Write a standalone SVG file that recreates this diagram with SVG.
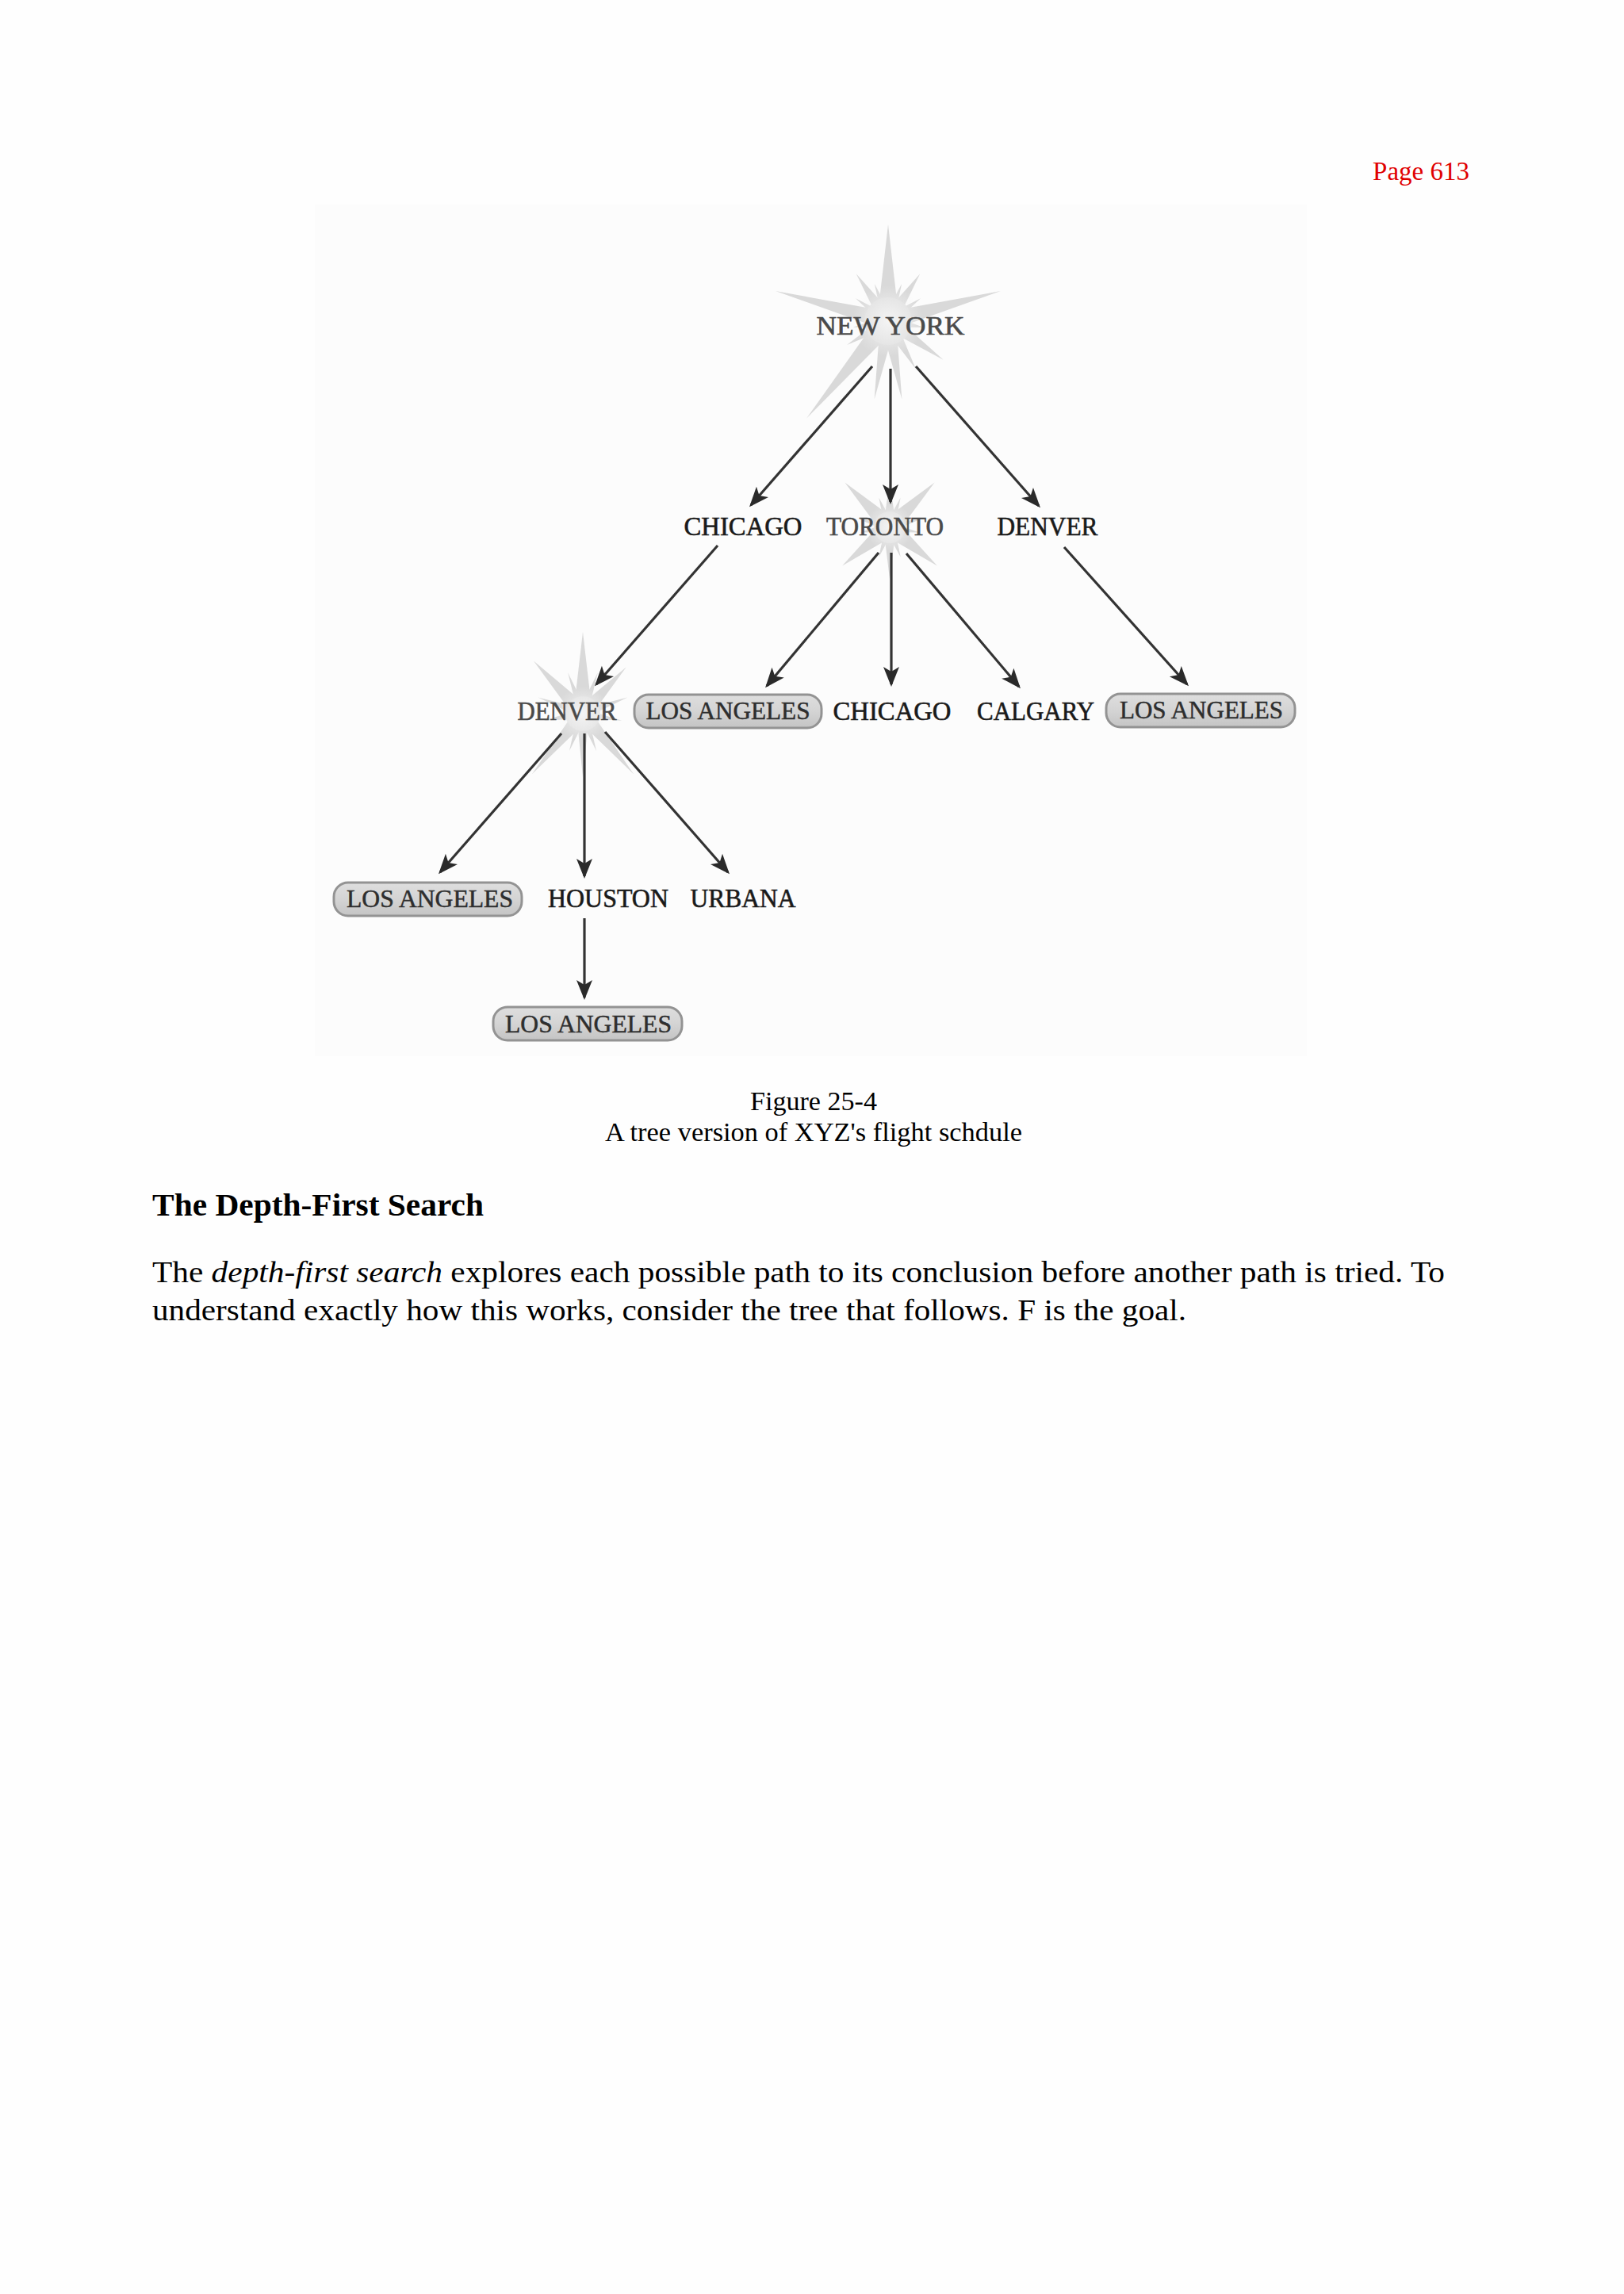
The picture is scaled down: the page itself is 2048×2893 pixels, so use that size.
<svg xmlns="http://www.w3.org/2000/svg" xmlns:xlink="http://www.w3.org/1999/xlink" width="2048" height="2893" viewBox="0 0 2048 2893">
<style>
.lbl{font-family:"Liberation Serif","Times New Roman",serif;font-size:33px;fill:#1a1a1a;stroke:#1a1a1a;stroke-width:0.6;text-anchor:middle}
.soft{fill:#4a4a4a;stroke:#4a4a4a}
.box{fill:url(#boxg);stroke:#939393;stroke-width:3}
.boxt{font-family:"Liberation Serif","Times New Roman",serif;font-size:31px;fill:#2e2e2e;stroke:#2e2e2e;stroke-width:0.5;text-anchor:middle}
.conn line{stroke:#333;stroke-width:3.2;marker-end:url(#ah)}
.body{font-family:"Liberation Serif","Times New Roman",serif;fill:#000}
.star{fill:#d9d9d9}
</style>
<defs>
<linearGradient id="boxg" x1="0" y1="0" x2="0" y2="1">
<stop offset="0" stop-color="#dedede"/>
<stop offset="0.5" stop-color="#d4d4d4"/>
<stop offset="1" stop-color="#c4c4c4"/>
</linearGradient>
<radialGradient id="glow">
<stop offset="0" stop-color="#f4f4f4"/>
<stop offset="1" stop-color="#f4f4f4" stop-opacity="0"/>
</radialGradient>
<polygon id="sp" points="-1,0 1,0 0,-1"/>
<marker id="ah" viewBox="-24 -12 28 24" refX="0" refY="0" markerWidth="28" markerHeight="24" markerUnits="userSpaceOnUse" orient="auto">
<path d="M3,0 L-22,-10 L-16,0 L-22,10 Z" fill="#2a2a2a"/>
</marker>
</defs>
<rect width="2048" height="2893" fill="#fefefe"/>
<rect x="397" y="258" width="1251" height="1074" fill="#fcfcfc"/>

<text x="1853" y="227" font-family="Liberation Serif, serif" font-size="33" fill="#e00000" text-anchor="end">Page 613</text>

<g id="stars">
<g class="star" transform="translate(1120,405)">
<use xlink:href="#sp" transform="rotate(0) scale(14,122)"/>
<use xlink:href="#sp" transform="rotate(20) scale(7,50)"/>
<use xlink:href="#sp" transform="rotate(34) scale(10,72)"/>
<use xlink:href="#sp" transform="rotate(55) scale(7,50)"/>
<use xlink:href="#sp" transform="rotate(75) scale(12,147)"/>
<use xlink:href="#sp" transform="rotate(100) scale(8,45)"/>
<use xlink:href="#sp" transform="rotate(125) scale(10,85)"/>
<use xlink:href="#sp" transform="rotate(150) scale(9,70)"/>
<use xlink:href="#sp" transform="rotate(170) scale(10,100)"/>
<use xlink:href="#sp" transform="rotate(190) scale(10,100)"/>
<use xlink:href="#sp" transform="rotate(220) scale(13,160)"/>
<use xlink:href="#sp" transform="rotate(240) scale(8,60)"/>
<use xlink:href="#sp" transform="rotate(260) scale(7,45)"/>
<use xlink:href="#sp" transform="rotate(285) scale(12,147)"/>
<use xlink:href="#sp" transform="rotate(305) scale(7,50)"/>
<use xlink:href="#sp" transform="rotate(326) scale(10,72)"/>
<use xlink:href="#sp" transform="rotate(340) scale(7,50)"/>
<circle r="30" fill="#dedede"/>
<circle r="45" fill="url(#glow)"/>
</g>
<g class="star" transform="translate(1122,665)">
<use xlink:href="#sp" transform="rotate(0) scale(8,60)"/>
<use xlink:href="#sp" transform="rotate(45) scale(12,80)"/>
<use xlink:href="#sp" transform="rotate(-45) scale(12,80)"/>
<use xlink:href="#sp" transform="rotate(129) scale(12,77)"/>
<use xlink:href="#sp" transform="rotate(-129) scale(12,77)"/>
<use xlink:href="#sp" transform="rotate(180) scale(8,65)"/>
<use xlink:href="#sp" transform="rotate(20) scale(6,40)"/>
<use xlink:href="#sp" transform="rotate(-20) scale(6,40)"/>
<use xlink:href="#sp" transform="rotate(75) scale(6,40)"/>
<use xlink:href="#sp" transform="rotate(-75) scale(6,40)"/>
<use xlink:href="#sp" transform="rotate(100) scale(6,38)"/>
<use xlink:href="#sp" transform="rotate(-100) scale(6,38)"/>
<use xlink:href="#sp" transform="rotate(160) scale(6,40)"/>
<use xlink:href="#sp" transform="rotate(-160) scale(6,40)"/>
<circle r="20" fill="#e0e0e0"/>
<circle r="30" fill="url(#glow)"/>
</g>
<g class="star" transform="translate(735,900)">
<use xlink:href="#sp" transform="rotate(0) scale(12,103)"/>
<use xlink:href="#sp" transform="rotate(-43) scale(11,91)"/>
<use xlink:href="#sp" transform="rotate(43) scale(10,80)"/>
<use xlink:href="#sp" transform="rotate(20) scale(6,55)"/>
<use xlink:href="#sp" transform="rotate(-20) scale(6,55)"/>
<use xlink:href="#sp" transform="rotate(70) scale(6,60)"/>
<use xlink:href="#sp" transform="rotate(-70) scale(6,60)"/>
<use xlink:href="#sp" transform="rotate(100) scale(6,50)"/>
<use xlink:href="#sp" transform="rotate(-100) scale(6,50)"/>
<use xlink:href="#sp" transform="rotate(140) scale(10,100)"/>
<use xlink:href="#sp" transform="rotate(-140) scale(10,100)"/>
<use xlink:href="#sp" transform="rotate(180) scale(8,80)"/>
<use xlink:href="#sp" transform="rotate(160) scale(6,50)"/>
<use xlink:href="#sp" transform="rotate(-160) scale(6,50)"/>
<circle r="22" fill="#e0e0e0"/>
<circle r="34" fill="url(#glow)"/>
</g>
</g>

<g id="connectors" class="conn">
<line x1="1100" y1="462" x2="947" y2="637"/>
<line x1="1123" y1="465" x2="1123" y2="633"/>
<line x1="1155" y1="462" x2="1310" y2="638"/>
<line x1="905" y1="688" x2="752" y2="863"/>
<line x1="1108" y1="697" x2="967" y2="865"/>
<line x1="1124" y1="697" x2="1124" y2="863"/>
<line x1="1143" y1="698" x2="1285" y2="866"/>
<line x1="1342" y1="690" x2="1497" y2="863"/>
<line x1="708" y1="925" x2="555" y2="1100"/>
<line x1="737" y1="925" x2="737" y2="1105"/>
<line x1="763" y1="923" x2="918" y2="1100"/>
<line x1="737" y1="1158" x2="737" y2="1258"/>
</g>

<g id="n-newyork"><text class="lbl soft" x="1123" y="422" font-size="36" textLength="187" lengthAdjust="spacingAndGlyphs">NEW YORK</text></g>
<g id="n-chicago1"><text class="lbl" x="937" y="675" textLength="149" lengthAdjust="spacingAndGlyphs">CHICAGO</text></g>
<g id="n-toronto"><text class="lbl soft" x="1116" y="675" textLength="148" lengthAdjust="spacingAndGlyphs">TORONTO</text></g>
<g id="n-denver1"><text class="lbl" x="1321" y="675" textLength="127" lengthAdjust="spacingAndGlyphs">DENVER</text></g>
<g id="n-denver2"><text class="lbl soft" x="715" y="908" textLength="125" lengthAdjust="spacingAndGlyphs">DENVER</text></g>
<g id="n-la1"><rect class="box" x="800" y="876" width="236" height="42" rx="18"/><text class="boxt" x="918" y="907" textLength="207" lengthAdjust="spacingAndGlyphs">LOS ANGELES</text></g>
<g id="n-chicago2"><text class="lbl" x="1125" y="908" textLength="149" lengthAdjust="spacingAndGlyphs">CHICAGO</text></g>
<g id="n-calgary"><text class="lbl" x="1306" y="908" textLength="148" lengthAdjust="spacingAndGlyphs">CALGARY</text></g>
<g id="n-la2"><rect class="box" x="1395" y="875" width="238" height="42" rx="18"/><text class="boxt" x="1515" y="906" textLength="206" lengthAdjust="spacingAndGlyphs">LOS ANGELES</text></g>
<g id="n-la3"><rect class="box" x="421" y="1113" width="237" height="42" rx="18"/><text class="boxt" x="542" y="1144" textLength="210" lengthAdjust="spacingAndGlyphs">LOS ANGELES</text></g>
<g id="n-houston"><text class="lbl" x="767" y="1144" textLength="152" lengthAdjust="spacingAndGlyphs">HOUSTON</text></g>
<g id="n-urbana"><text class="lbl" x="937" y="1144" textLength="133" lengthAdjust="spacingAndGlyphs">URBANA</text></g>
<g id="n-la4"><rect class="box" x="622" y="1270" width="238" height="42" rx="18"/><text class="boxt" x="742" y="1302" textLength="210" lengthAdjust="spacingAndGlyphs">LOS ANGELES</text></g>

<g id="caption" class="body" text-anchor="middle" font-size="34">
<text x="1026" y="1400" textLength="160" lengthAdjust="spacingAndGlyphs">Figure 25-4</text>
<text x="1026" y="1439" textLength="526" lengthAdjust="spacingAndGlyphs">A tree version of XYZ's flight schdule</text>
</g>
<text class="body" x="192" y="1533" font-size="40" font-weight="bold" textLength="418" lengthAdjust="spacingAndGlyphs">The Depth-First Search</text>
<text class="body" x="192" y="1617" font-size="38" textLength="1630" lengthAdjust="spacingAndGlyphs">The <tspan font-style="italic">depth-first search</tspan> explores each possible path to its conclusion before another path is tried. To</text>
<text class="body" x="192" y="1665" font-size="38" textLength="1304" lengthAdjust="spacingAndGlyphs">understand exactly how this works, consider the tree that follows. F is the goal.</text>
</svg>
